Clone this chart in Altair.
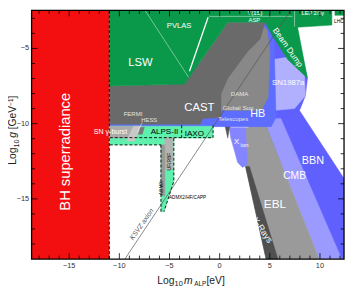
import altair as alt
import pandas as pd

# ---------------- axes ----------------
X_DOMAIN = [-18.75, 12.4]
Y_DOMAIN = [-19.0, -2.476]
W, H = 318, 253
XS = alt.Scale(domain=X_DOMAIN, nice=False, zero=False)
YS = alt.Scale(domain=Y_DOMAIN, nice=False, zero=False)

x_major = [-15, -10, -5, 0, 5, 10]
x_major_lab = ["−15", "−10", "−5", "0", "5", "10"]
x_minor = [v for v in range(-18, 13) if v % 5 != 0]
y_major = [-15, -10, -5]
y_major_lab = ["−15", "−10", "−5"]
y_minor = [v for v in range(-18, -2) if v % 5 != 0]

# ---------------- regions (log10 m_ALP [eV], log10 g [GeV^-1]) ----------------
bh_x = [-18.75, -11.0]
bh_y = [-19.0, -2.0]

bbn_x = [4.04, 7.47, 8.75, 8.55, 7.96, 12.4, 12.4, 11.39, 3.75]
bbn_y = [-3.26, -3.26, -6.98, -8.15, -9.13, -13.65, -19.0, -19.0, -9.78]

cmb_x = [4.34, 6.10, 12.17, 9.92]
cmb_y = [-9.65, -9.65, -19.0, -19.0]

ebl_x = [2.18, 4.34, 9.92, 4.63, 2.58, 2.28]
ebl_y = [-9.85, -9.65, -19.0, -19.0, -12.85, -11.09]

xray_x = [2.58, 2.97, 5.81, 4.63]
xray_y = [-12.85, -12.85, -19.0, -19.0]

xion_x = [0.91, 2.58, 2.77, 2.28, 1.79, 1.50, 1.11]
xion_y = [-10.11, -10.11, -12.72, -12.91, -12.59, -11.87, -10.96]

tele_x = [0.52, 1.01, 0.81]
tele_y = [-10.11, -10.11, -10.96]

sn87_x = [5.32, 7.18, 8.45, 8.55, 7.47, 5.32]
sn87_y = [-5.74, -5.54, -6.52, -8.15, -9.0, -9.13]

hb_x = [-11.0, 4.34, 5.42, 5.62, 5.13, -11.0]
hb_y = [-9.91, -3.26, -4.43, -9.59, -10.2, -10.2]

dama_x = [4.14, 4.73, 5.02, 4.83, 4.14, 0.13, 0.13, 0.81, 2.77, 4.04]
dama_y = [-3.39, -3.78, -5.22, -8.28, -9.13, -9.13, -8.02, -6.98, -5.22, -4.37]

cast_x = [-11.0, -3.5, 0.81, 4.53, 4.04, 2.77, 0.81, 0.13, 0.13, -1.64, -1.93, -11.0]
cast_y = [-7.5, -7.37, -3.26, -3.26, -4.37, -5.22, -6.98, -8.02, -9.59, -9.65, -10.04, -10.04]

green_x = [-11.0, 11.19, 11.19, 7.77, 8.75, 6.79, 5.22, 4.53, 0.81, -3.5, -11.0]
green_y = [-2.0, -2.0, -3.45, -3.59, -6.98, -5.74, -4.11, -3.26, -3.26, -7.37, -7.5]

lhc_x = [11.49, 12.4, 12.4, 11.49]
lhc_y = [-2.0, -2.0, -2.8, -2.8]

minta_x = [-11.0, -0.66, -0.66, -4.57, -4.57, -11.0]
minta_y = [-10.17, -10.17, -10.96, -10.96, -11.41, -11.41]

mintb_x = [-5.85, -4.57, -4.57, -5.55, -5.85]
mintb_y = [-11.09, -11.09, -13.83, -15.85, -15.85]

snb_x = [-11.0, -8.0, -8.69, -11.0]
snb_y = [-10.17, -10.17, -10.96, -10.96]

fermi_x = [-8.59, -7.81, -8.49, -9.28]
fermi_y = [-10.17, -10.17, -11.15, -11.15]

hess_x = [-7.9, -7.51, -7.71, -8.10]
hess_y = [-10.24, -10.24, -10.70, -10.70]

ufrbf_x = [-5.46, -4.67, -4.67, -5.46]
ufrbf_y = [-10.96, -10.96, -13.04, -13.04]

admx_x = [-5.85, -5.46, -5.46, -5.85]
admx_y = [-11.41, -11.41, -14.8, -14.8]

# dashed outlines: (segment id, x, y)
dash_seg = [0, 0, 1, 1, 2, 2, 3, 3, 4, 4, 5, 5, 5, 6, 6]
dash_x = [-11.0, -11.0, -10.95, -0.66, -0.66, -0.66, -10.95, -5.85, -5.85, -5.85, -4.57, -4.57, -5.55, -3.79, -3.79]
dash_y = [-19.0, -2.0, -10.93, -10.93, -10.11, -10.93, -11.41, -11.41, -11.41, -15.85, -10.96, -13.83, -15.85, -10.11, -10.93]

# thin white lines
wl_seg = [0, 0, 1, 1, 2, 2, 3, 3, 4, 4]
wl_x = [-7.90, -3.10, -1.05, 7.28, 1.11, 2.87, 7.47, 7.47, -7.71, -8.2]
wl_y = [-2.0, -6.91, -2.87, -2.87, -10.24, -10.24, -2.0, -3.55, -9.91, -10.56]
bright_x = [-1.15, -3.01]
bright_y = [-2.93, -6.52]

# KSVZ axion line
ksvz_x = [-9.45, 7.55]
ksvz_y = [-19.0, -2.0]

# labels
lab_text = ["LSW", "PVLAS", "Y(1S)", "ASP", "LEP 2/3γ", "Beam Dump", "SN1987a", "CAST", "HB",
            "EBL", "CMB", "BBN", "X-Rays", "SN γ-burst", "BH superradiance", "X", "ion",
            "DAMA", "Global Sun", "Telescopes", "FERMI", "HESS",
            "LHC", "ALPS-II", "IAXO", "UF/RBF", "ADMX", "ADMX2/HF/CAPP"]
lab_x = [-7.90, -4.04, 3.51, 3.46, 9.29, 6.82, 6.84, -2.03, 3.80,
         5.51, 7.47, 9.29, 4.28, -10.89, -15.45, 1.69, 2.48,
         1.99, 1.84, 1.35, -8.64, -7.02,
         11.88, -5.50, -2.52, -5.06, -5.80, -3.2]
lab_y = [-6.00, -3.52, -2.62, -3.08, -2.68, -4.93, -7.30, -8.93, -9.39,
         -15.33, -13.50, -12.46, -17.07, -10.56, -11.87, -11.22, -11.41,
         -8.02, -8.93, -9.72, -9.33, -9.75,
         -3.19, -10.56, -10.70, -12.52, -14.29, -14.97]
lab_size = [11.5, 7.8, 6, 6, 5.7, 8.4, 7.9, 11.5, 11,
            12, 10.5, 11, 9, 7.2, 15, 8, 6,
            6.2, 6.3, 6.1, 6.1, 5.9,
            5, 8.2, 8.2, 5, 5, 4.7]
lab_angle = [0, 0, 0, 0, 0, 55, 0, 0, 0,
             0, 0, 0, 56, 0, 270, 0, 0,
             0, 0, 0, 0, 0,
             0, 0, 0, 270, 270, 0]
lab_color = ["white"] * 17 + ["#e4e4e4"] * 5 + ["black"] * 6

FONT = "Liberation Sans"


def poly(xs_, ys_, color, sw=0.5):
    df = pd.DataFrame({"i": list(range(len(xs_))), "x": xs_, "y": ys_})
    return alt.Chart(df).mark_line(
        interpolate="linear-closed", fill=color, stroke=color, strokeWidth=sw, clip=True
    ).encode(
        x=alt.X("x:Q", scale=XS, axis=None),
        y=alt.Y("y:Q", scale=YS, axis=None),
        order="i:Q",
    )


def segs(seg, xs_, ys_, color, width, dash=None, opacity=1.0):
    df = pd.DataFrame({"seg": seg, "i": list(range(len(xs_))), "x": xs_, "y": ys_})
    kw = dict(color=color, strokeWidth=width, opacity=opacity, clip=True)
    if dash:
        kw["strokeDash"] = dash
    return alt.Chart(df).mark_line(**kw).encode(
        x=alt.X("x:Q", scale=XS, axis=None),
        y=alt.Y("y:Q", scale=YS, axis=None),
        detail="seg:N",
        order="i:Q",
    )


bh = alt.Chart(pd.DataFrame({"x": [bh_x[0]], "x2": [bh_x[1]], "y": [bh_y[0]], "y2": [bh_y[1]]})).mark_rect(
    color="#f30f0f", clip=True
).encode(
    x=alt.X("x:Q", scale=XS, axis=None), x2="x2",
    y=alt.Y("y:Q", scale=YS, axis=None), y2="y2",
)

layers = [
    bh,
    poly(bbn_x, bbn_y, "#6060ff"),
    poly(cmb_x, cmb_y, "#9a9aff"),
    poly(ebl_x, ebl_y, "#9a9a9a"),
    poly(xray_x, xray_y, "#505050"),
    poly(xion_x, xion_y, "#8585ff"),
    poly(tele_x, tele_y, "#555555"),
    poly(sn87_x, sn87_y, "#b0b0ff"),
    poly(hb_x, hb_y, "#5c6dff"),
    poly(dama_x, dama_y, "#888888"),
    poly(cast_x, cast_y, "#6a6a6a"),
    poly(green_x, green_y, "#0a994b"),
    poly(lhc_x, lhc_y, "#0a994b"),
    poly(minta_x, minta_y, "#5ff0ad"),
    poly(mintb_x, mintb_y, "#5ff0ad"),
    poly(snb_x, snb_y, "#ababab"),
    poly(fermi_x, fermi_y, "#c8c8c8"),
    poly(hess_x, hess_y, "#7a7a7a"),
    poly(ufrbf_x, ufrbf_y, "#b4b4b4"),
    poly(admx_x, admx_y, "#9a9a9a"),
    segs(dash_seg, dash_x, dash_y, "black", 0.9, dash=[3, 2]),
    segs(wl_seg, wl_x, wl_y, "white", 0.6, opacity=0.75),
    segs([0, 0], bright_x, bright_y, "white", 1.3),
    segs([0, 0], ksvz_x, ksvz_y, "#555555", 0.7),
]

labels = pd.DataFrame({"t": lab_text, "x": lab_x, "y": lab_y, "s": lab_size, "a": lab_angle, "c": lab_color})
layers.append(
    alt.Chart(labels).mark_text(font=FONT, align="center", baseline="middle").encode(
        x=alt.X("x:Q", scale=XS, axis=None),
        y=alt.Y("y:Q", scale=YS, axis=None),
        text="t:N",
        size=alt.Size("s:Q", scale=None, legend=None),
        angle=alt.Angle("a:Q", scale=None),
        color=alt.Color("c:N", scale=None, legend=None),
    )
)
layers.append(
    alt.Chart(pd.DataFrame({"t": ["KSVZ axion"], "x": [-7.76], "y": [-16.7]})).mark_text(
        font=FONT, fontStyle="italic", fontSize=7, angle=305, color="#555555", align="center", baseline="middle"
    ).encode(x=alt.X("x:Q", scale=XS, axis=None), y=alt.Y("y:Q", scale=YS, axis=None), text="t:N")
)


# inward ticks on all four sides
def ticks(vals, side, length):
    df = pd.DataFrame({"v": vals})
    base = alt.Chart(df).mark_rule(color="black", strokeWidth=0.8)
    if side in ("left", "right"):
        x0, x1 = (0, length) if side == "left" else (W - length, W)
        return base.encode(y=alt.Y("v:Q", scale=YS, axis=None), x=alt.value(x0), x2=alt.value(x1))
    y0, y1 = (H - length, H) if side == "bottom" else (0, length)
    return base.encode(x=alt.X("v:Q", scale=XS, axis=None), y=alt.value(y0), y2=alt.value(y1))


for side in ("left", "right"):
    layers.append(ticks(y_minor, side, 3.5))
    layers.append(ticks(y_major, side, 6))
for side in ("top", "bottom"):
    layers.append(ticks(x_minor, side, 3.5))
    layers.append(ticks(x_major, side, 6))

# tick labels
layers.append(
    alt.Chart(pd.DataFrame({"v": x_major, "t": x_major_lab})).mark_text(
        font=FONT, fontSize=7.5, color="#333333", align="center", baseline="middle"
    ).encode(x=alt.X("v:Q", scale=XS, axis=None), y=alt.value(H + 7), text="t:N")
)
layers.append(
    alt.Chart(pd.DataFrame({"v": y_major, "t": y_major_lab})).mark_text(
        font=FONT, fontSize=7.5, color="#333333", align="right", baseline="middle"
    ).encode(y=alt.Y("v:Q", scale=YS, axis=None), x=alt.value(-2.5), text="t:N")
)

# frame
layers.append(
    alt.Chart(pd.DataFrame({"k": [0]})).mark_rect(fillOpacity=0, stroke="black", strokeWidth=1.3).encode(
        x=alt.value(0), x2=alt.value(W), y=alt.value(0), y2=alt.value(H)
    )
)

# axis titles built from pieces (for sub/superscripts)
one = pd.DataFrame({"k": [0]})


def piece(text, px, py, size, angle=0, italic=False):
    kw = dict(text=text, font=FONT, fontSize=size, align="left", baseline="alphabetic", color="#222222")
    if angle:
        kw["angle"] = angle
    if italic:
        kw["fontStyle"] = "italic"
    return alt.Chart(one).mark_text(**kw).encode(x=alt.value(px), y=alt.value(py))


layers += [
    piece("Log", 128, 278, 10.5),
    piece("10", 145.5, 280.5, 7.5),
    piece("m", 155, 278, 10.5, italic=True),
    piece("ALP", 165.5, 280.5, 6.5),
    piece("[eV]", 178, 278, 10.5),
    piece("Log", -15.5, 157, 10.5, angle=270),
    piece("10", -13, 139.5, 7.5, angle=270),
    piece("g", -15.5, 129.5, 10.5, angle=270, italic=True),
    piece("[GeV", -15.5, 121, 10.5, angle=270),
    piece("−1", -19, 97, 6.5, angle=270),
    piece("]", -15.5, 89.5, 10.5, angle=270),
]

chart = alt.layer(*layers).properties(
    width=W, height=H,
    padding={"left": 24, "top": 0, "right": 2, "bottom": 29},
    autosize=alt.AutoSizeParams(type="none"),
).configure_view(strokeWidth=0)

chart.save("out.html", embed_options={"renderer": "svg", "actions": False})
